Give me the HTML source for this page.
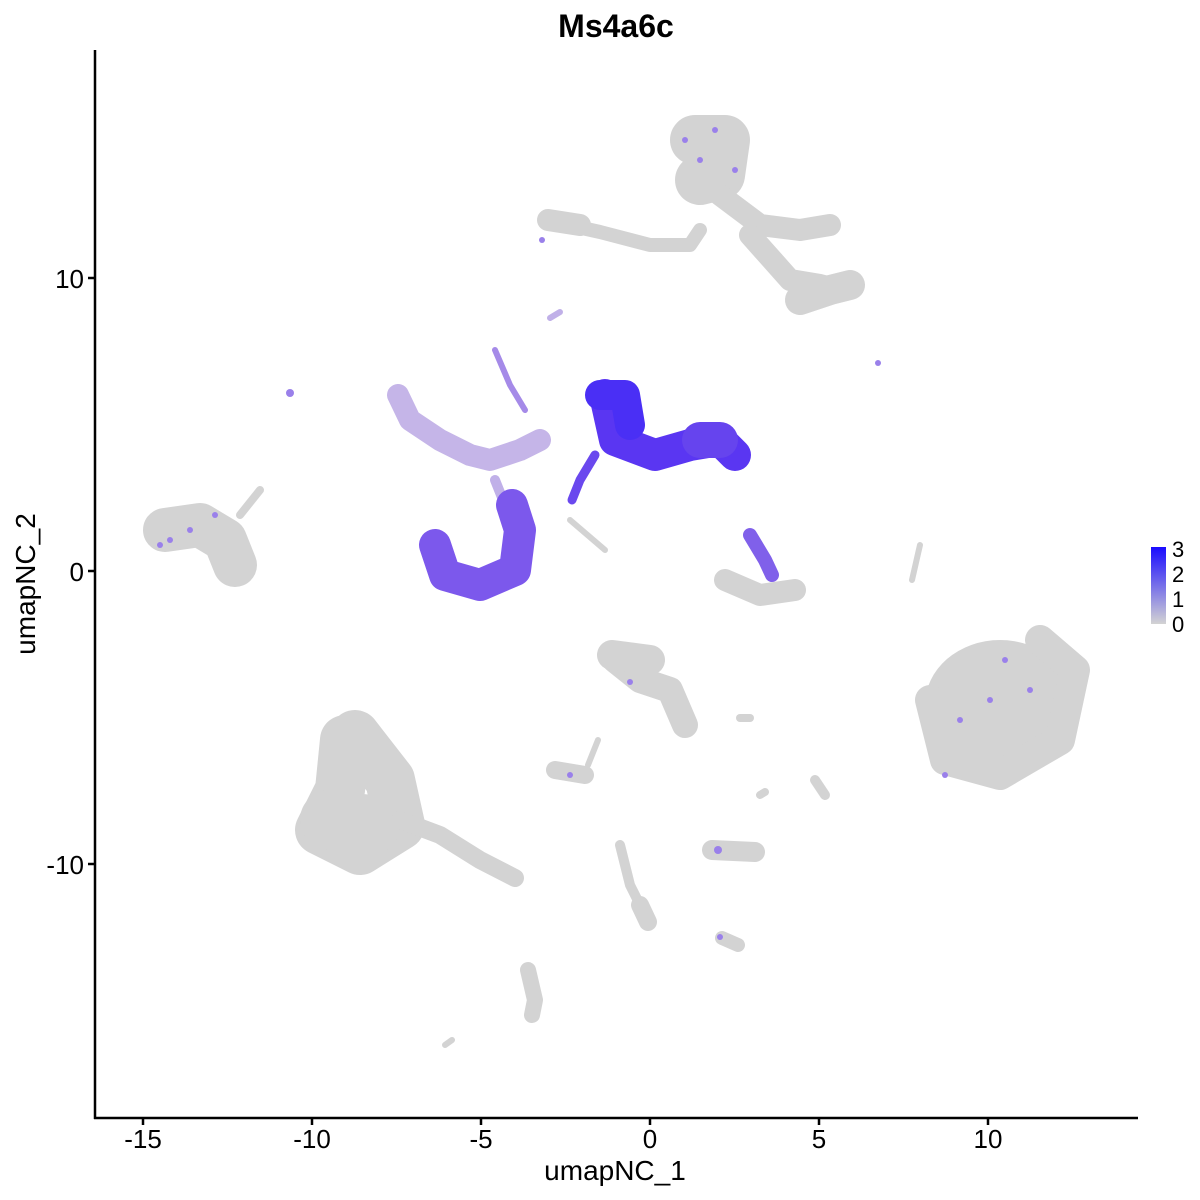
<!DOCTYPE html>
<html><head><style>
body{margin:0;background:#fff}
svg{display:block}
text{font-family:"Liberation Sans",sans-serif}
</style></head><body>
<svg width="1200" height="1200" viewBox="0 0 1200 1200">
<rect width="1200" height="1200" fill="#fff"/>
<g fill="none" stroke-linecap="round" stroke-linejoin="round">
<path d="M695 140 L725 140 L720 175 L700 180" stroke="#d3d3d3" stroke-width="50"/>
<path d="M720 195 L760 225 L800 230 L830 225" stroke="#d3d3d3" stroke-width="22"/>
<path d="M750 235 L790 280 L820 285 L840 290" stroke="#d3d3d3" stroke-width="22"/>
<path d="M800 300 L830 290 L850 285" stroke="#d3d3d3" stroke-width="30"/>
<path d="M555 222 L600 232 L650 245 L690 245 L700 230" stroke="#d3d3d3" stroke-width="14"/>
<path d="M548 220 L580 225" stroke="#d3d3d3" stroke-width="22"/>
<path d="M165 530 L200 525 L225 540 L235 565" stroke="#d3d3d3" stroke-width="44"/>
<path d="M240 515 L260 490" stroke="#d3d3d3" stroke-width="8"/>
<path d="M398 395 L410 420 L440 440 L470 455 L490 460 L520 450 L540 440" stroke="#c5b5e8" stroke-width="22"/>
<path d="M495 350 L510 385 L525 410" stroke="#a58ae8" stroke-width="6"/>
<path d="M495 480 L505 505" stroke="#c0b0e8" stroke-width="10"/>
<path d="M435 545 L445 575 L480 585 L515 570 L520 530 L512 505" stroke="#7c58ec" stroke-width="32"/>
<path d="M605 395 L615 440 L655 455 L690 445 L720 440 L735 455" stroke="#5a36f2" stroke-width="32"/>
<path d="M600 395 L625 395 L630 425" stroke="#4a2ff5" stroke-width="30"/>
<path d="M700 440 L720 440" stroke="#6644ee" stroke-width="36"/>
<path d="M595 455 L580 480 L572 500" stroke="#6a48ee" stroke-width="9"/>
<path d="M725 580 L760 595 L795 590" stroke="#d3d3d3" stroke-width="22"/>
<path d="M750 535 L765 560 L772 575" stroke="#8060ea" stroke-width="14"/>
<path d="M570 520 L605 550" stroke="#d3d3d3" stroke-width="6"/>
<path d="M920 545 L912 580" stroke="#d3d3d3" stroke-width="6"/>
<ellipse cx="1000" cy="705" rx="75" ry="65" fill="#d3d3d3"/>
<path d="M930 700 L945 760 L1000 775 L1060 740 L1075 670 L1040 640" stroke="#d3d3d3" stroke-width="30"/>
<path d="M345 740 L340 790 L320 830 L360 850 L400 825 L390 780 L355 735" stroke="#d3d3d3" stroke-width="50"/>
<path d="M330 820 L370 825" stroke="#d3d3d3" stroke-width="60"/>
<path d="M400 820 L440 835 L480 860 L515 878" stroke="#d3d3d3" stroke-width="18"/>
<path d="M615 660 L640 680 L670 690 L685 725" stroke="#d3d3d3" stroke-width="26"/>
<path d="M612 655 L650 660" stroke="#d3d3d3" stroke-width="30"/>
<path d="M555 770 L585 775" stroke="#d3d3d3" stroke-width="18"/>
<path d="M588 765 L598 740" stroke="#d3d3d3" stroke-width="6"/>
<path d="M712 850 L755 852" stroke="#d3d3d3" stroke-width="20"/>
<path d="M620 845 L630 885 L645 915" stroke="#d3d3d3" stroke-width="10"/>
<path d="M640 905 L648 922" stroke="#d3d3d3" stroke-width="18"/>
<path d="M722 938 L738 945" stroke="#d3d3d3" stroke-width="14"/>
<path d="M528 970 L535 1000 L532 1015" stroke="#d3d3d3" stroke-width="16"/>
<path d="M445 1045 L452 1040" stroke="#d3d3d3" stroke-width="6"/>
<path d="M815 780 L825 795" stroke="#d3d3d3" stroke-width="10"/>
<path d="M760 795 L765 792" stroke="#d3d3d3" stroke-width="8"/>
<path d="M740 718 L750 718" stroke="#d3d3d3" stroke-width="8"/>
<path d="M550 318 L560 312" stroke="#c0b0e8" stroke-width="6"/>
</g>
<g fill="#9a80ea">
<circle cx="290" cy="393" r="4"/><circle cx="878" cy="363" r="3"/><circle cx="720" cy="937" r="3"/>
<circle cx="685" cy="140" r="3"/><circle cx="700" cy="160" r="3"/><circle cx="735" cy="170" r="3"/><circle cx="715" cy="130" r="3"/>
<circle cx="170" cy="540" r="3"/><circle cx="190" cy="530" r="3"/><circle cx="215" cy="515" r="3"/><circle cx="160" cy="545" r="3"/>
<circle cx="960" cy="720" r="3"/><circle cx="990" cy="700" r="3"/><circle cx="1030" cy="690" r="3"/><circle cx="945" cy="775" r="3"/><circle cx="1005" cy="660" r="3"/>
<circle cx="718" cy="850" r="4"/><circle cx="570" cy="775" r="3"/><circle cx="630" cy="682" r="3"/><circle cx="542" cy="240" r="3"/>
</g>
<g stroke="#000" stroke-width="2.5">
<line x1="95" y1="50" x2="95" y2="1119"/>
<line x1="94" y1="1118" x2="1138" y2="1118"/>
<line x1="143" y1="1118" x2="143" y2="1125"/><line x1="312" y1="1118" x2="312" y2="1125"/>
<line x1="481" y1="1118" x2="481" y2="1125"/><line x1="650" y1="1118" x2="650" y2="1125"/>
<line x1="819" y1="1118" x2="819" y2="1125"/><line x1="988" y1="1118" x2="988" y2="1125"/>
<line x1="88" y1="278" x2="95" y2="278"/><line x1="88" y1="571" x2="95" y2="571"/><line x1="88" y1="864" x2="95" y2="864"/>
</g>
<g font-size="26" fill="#000" text-anchor="middle">
<text x="143" y="1148">-15</text><text x="312" y="1148">-10</text><text x="481" y="1148">-5</text>
<text x="650" y="1148">0</text><text x="819" y="1148">5</text><text x="988" y="1148">10</text>
</g>
<g font-size="26" fill="#000" text-anchor="end">
<text x="84" y="288">10</text><text x="84" y="581">0</text><text x="84" y="874">-10</text>
</g>
<text x="615" y="1180" font-size="28" text-anchor="middle">umapNC_1</text>
<text transform="translate(35 584) rotate(-90)" font-size="28" text-anchor="middle">umapNC_2</text>
<text x="616" y="37" font-size="32" font-weight="bold" text-anchor="middle">Ms4a6c</text>
<defs><linearGradient id="g" x1="0" y1="1" x2="0" y2="0"><stop offset="0" stop-color="#d3d3d3"/><stop offset="1" stop-color="#1a0cff"/></linearGradient></defs>
<rect x="1151" y="547" width="15" height="77" fill="url(#g)"/>
<g font-size="22" fill="#000">
<text x="1172" y="557">3</text><text x="1172" y="582">2</text><text x="1172" y="607">1</text><text x="1172" y="632">0</text>
</g>
</svg>
</body></html>
